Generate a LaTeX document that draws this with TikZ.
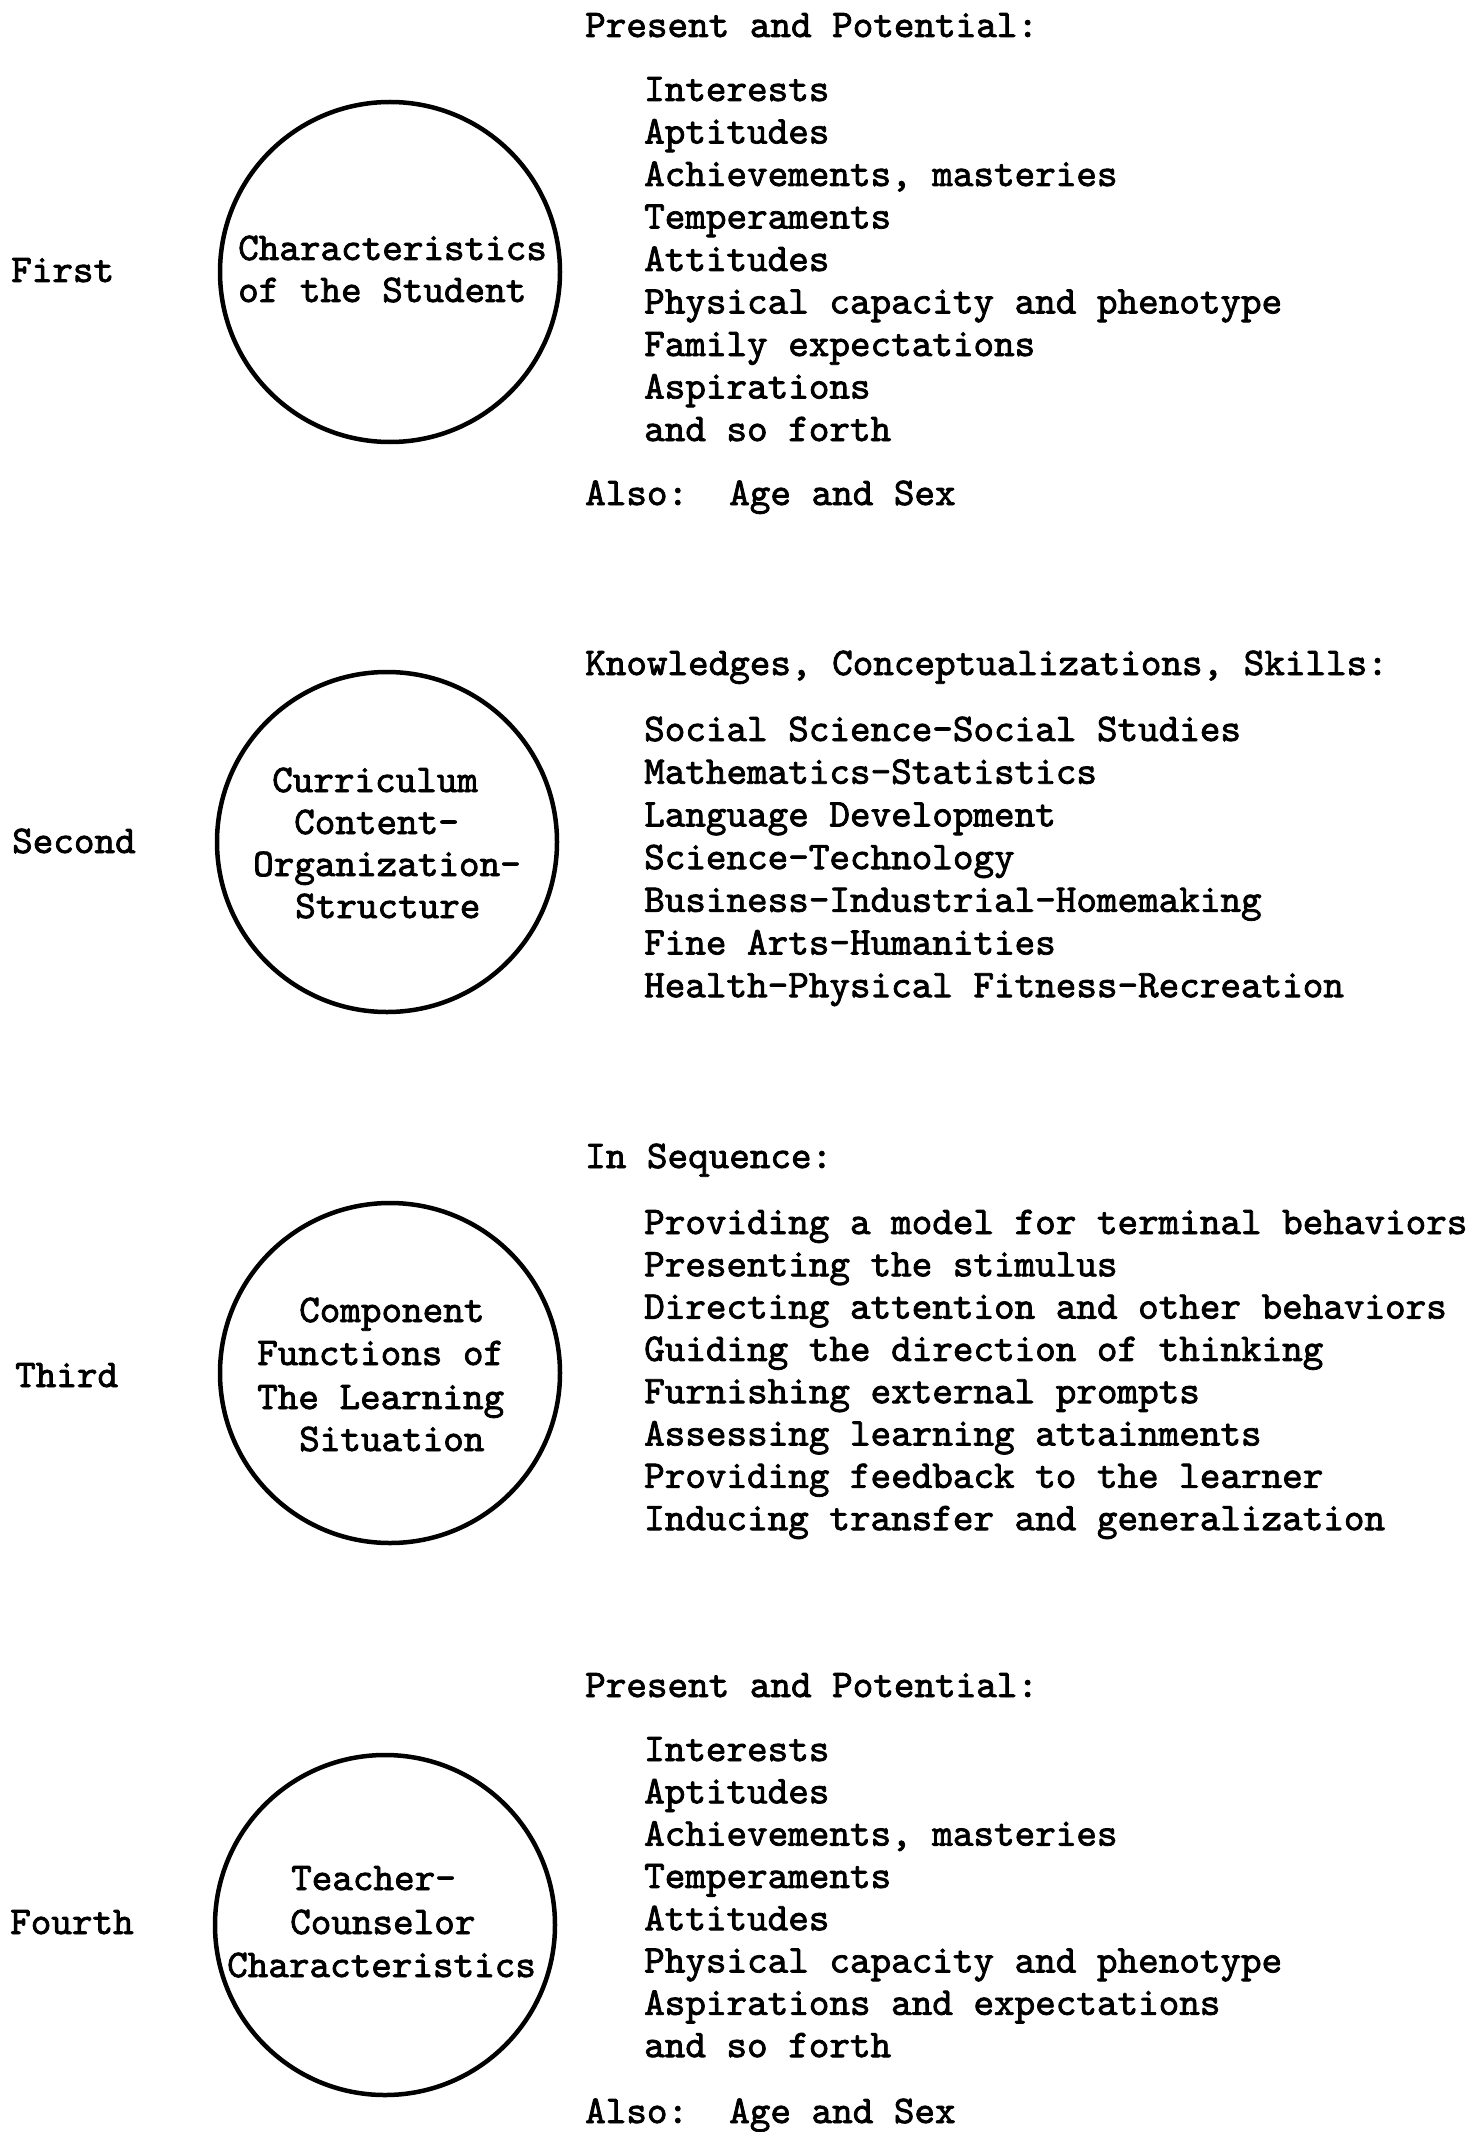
\documentclass[tikz,border=0pt]{standalone}
\usepackage{fontspec}
\newfontfamily\tw[FakeBold=2]{lmmono10-regular.otf}
\begin{document}
\frenchspacing
\begin{tikzpicture}[x=1pt,y=-1pt,
  txt/.style={anchor=base west,inner sep=0pt,font=\tw\fontsize{39.2}{42.5}\selectfont},
  ring/.style={circle,draw,line width=4.5pt,minimum size=340pt,inner sep=0pt}]
\useasboundingbox[fill=white] (0,0) rectangle (1471,2132);

% ---- First: characteristics of the student ----
\node[txt] (l1) at (11,282) {First};
\node[ring] (c1) at (390,272) {};
\node[txt] (c1a) at (238,260) {Characteristics};
\node[txt] (c1b) at (238,302) {of the Student};
\node[txt] (h1) at (585,37) {Present and Potential:};
\foreach \t [count=\i] in {Interests,Aptitudes,{Achievements, masteries},Temperaments,Attitudes,
  Physical capacity and phenotype,Family expectations,Aspirations,and so forth}
  \node[txt] (a\i) at (644,{101+42.5*(\i-1)}) {\t};
\node[txt] (x1) at (585,505) {Also:\ \ Age and Sex};

% ---- Second: curriculum ----
\node[txt] (l2) at (12,853) {Second};
\node[ring] (c2) at (387,842) {};
\node[txt] (c2a) at (272,792) {Curriculum};
\node[txt] (c2b) at (294,834) {Content-};
\node[txt] (c2c) at (253,876) {Organization-};
\node[txt] (c2d) at (295,918) {Structure};
\node[txt] (h2) at (585,675) {Knowledges, Conceptualizations, Skills:};
\foreach \t [count=\i] in {Social Science-Social Studies,Mathematics-Statistics,Language Development,
  Science-Technology,Business-Industrial-Homemaking,Fine Arts-Humanities,
  Health-Physical Fitness-Recreation}
  \node[txt] (b\i) at (644,{741+42.7*(\i-1)}) {\t};

% ---- Third: component functions ----
\node[txt] (l3) at (15,1387) {Third};
\node[ring] (c3) at (390,1373) {};
\node[txt] (c3a) at (299,1322) {Component};
\node[txt] (c3b) at (257,1365) {Functions of};
\node[txt] (c3c) at (257,1409) {The Learning};
\node[txt] (c3d) at (299,1451) {Situation};
\node[txt] (h3) at (585,1168) {In Sequence:};
\foreach \t [count=\i] in {Providing a model for terminal behaviors,Presenting the stimulus,
  Directing attention and other behaviors,Guiding the direction of thinking,
  Furnishing external prompts,Assessing learning attainments,
  Providing feedback to the learner,Inducing transfer and generalization}
  \node[txt] (d\i) at (644,{1234+42.3*(\i-1)}) {\t};

% ---- Fourth: teacher-counselor ----
\node[txt] (l4) at (10,1934) {Fourth};
\node[ring] (c4) at (385,1925) {};
\node[txt] (c4a) at (291,1890) {Teacher-};
\node[txt] (c4b) at (290,1934) {Counselor};
\node[txt] (c4c) at (227,1977) {Characteristics};
\node[txt] (h4) at (585,1697) {Present and Potential:};
\foreach \t [count=\i] in {Interests,Aptitudes,{Achievements, masteries},Temperaments,Attitudes,
  Physical capacity and phenotype,Aspirations and expectations,and so forth}
  \node[txt] (e\i) at (644,{1761+42.3*(\i-1)}) {\t};
\node[txt] (x4) at (585,2123) {Also:\ \ Age and Sex};
\end{tikzpicture}
\end{document}
